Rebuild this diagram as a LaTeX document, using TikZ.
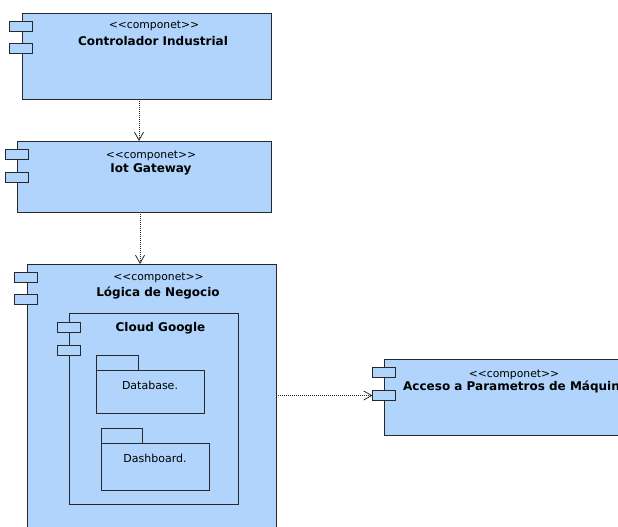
\documentclass[tikz,border=0pt]{standalone}
\usepackage{fontspec}
\setmainfont{DejaVu Sans}[Ligatures=NoCommon]
\usetikzlibrary{arrows.meta}
\definecolor{compfill}{RGB}{176,212,252}
\definecolor{edge}{RGB}{40,40,40}
\newcommand{\stereotxt}{{<}{<}componet{>}{>}}
\tikzset{
  comp/.style={draw=edge, fill=compfill, line width=0.9pt, inner sep=0pt, outer sep=0pt, rectangle},
  tab/.style={comp, minimum width=23pt, minimum height=10pt},
  pkg/.style={draw=edge, line width=0.9pt, inner sep=0pt, outer sep=0pt, rectangle},
  stereo/.style={inner sep=0pt, anchor=base, font=\fontsize{10.8}{12}\selectfont},
  title/.style={inner sep=0pt, anchor=base, font=\fontsize{12}{14}\selectfont\bfseries},
  plain/.style={inner sep=0pt, anchor=base, font=\fontsize{11}{13}\selectfont},
  dep/.style={draw=edge, line width=0.8pt, dash pattern=on 1pt off 1pt, -{Straight Barb[length=8pt,width=9pt,line width=0.8pt]}}
}
\begin{document}
\begin{tikzpicture}[x=1pt,y=-1pt]
\useasboundingbox (0,0) rectangle (618,527);
\clip (0,0) rectangle (618,527);
% Box 1
\node[comp, minimum width=249, minimum height=86] (c1) at (146.5,56) {};
\node[tab] (t1a) at (21,26.5) {};
\node[tab] (t1b) at (21,48.5) {};
\node[stereo] (s1) at (154,29) {\stereotxt};
\node[title] (n1) at (153,45.5) {Controlador Industrial};
% Box 2
\node[comp, minimum width=254, minimum height=71] (c2) at (144,176.5) {};
\node[tab] (t2a) at (16.5,154) {};
\node[tab] (t2b) at (16.5,177) {};
\node[stereo] (s2) at (151,158) {\stereotxt};
\node[title] (n2) at (151,172.5) {Iot Gateway};
% Box 3
\node[comp, minimum width=249, minimum height=290] (c3) at (151.5,409) {};
\node[tab] (t3a) at (25.5,277) {};
\node[tab] (t3b) at (25.5,299) {};
\node[stereo] (s3) at (158.5,280) {\stereotxt};
\node[title] (n3) at (158,296.5) {Lógica de Negocio};
% Cloud Google
\node[pkg, minimum width=169, minimum height=191] (cg) at (153.5,408.5) {};
\node[tab] (tga) at (68.5,327) {};
\node[tab] (tgb) at (68.5,350) {};
\node[title] (ng) at (160.5,331.5) {Cloud Google};
% Database
\node[pkg, minimum width=42, minimum height=15] (dbt) at (117,362.5) {};
\node[pkg, minimum width=108, minimum height=43] (db) at (150,391.5) {};
\node[plain] (ndb) at (150,389.5) {Database.};
% Dashboard
\node[pkg, minimum width=41, minimum height=15] (dst) at (121.5,435.5) {};
\node[pkg, minimum width=108, minimum height=47] (ds) at (155,466.5) {};
\node[plain] (nds) at (155,462.5) {Dashboard.};
% Box 4
\node[comp, minimum width=260, minimum height=76] (c4) at (514,397) {};
\node[tab] (t4a) at (384,372) {};
\node[tab] (t4b) at (384,395.5) {};
\node[stereo] (s4) at (514,377) {\stereotxt};
\node[title, anchor=base west] (n4) at (403,390.5) {Acceso a Parametros de Máquina};
% Dependencies
\coordinate (a1) at (139,0);
\coordinate (a2) at (140,0);
\draw[dep] (c1.south -| a1) -- (c2.north -| a1);
\draw[dep] (c2.south -| a2) -- (c3.north -| a2);
\draw[dep] (c3.east |- t4b.west) -- (t4b.west);
\end{tikzpicture}
\end{document}
